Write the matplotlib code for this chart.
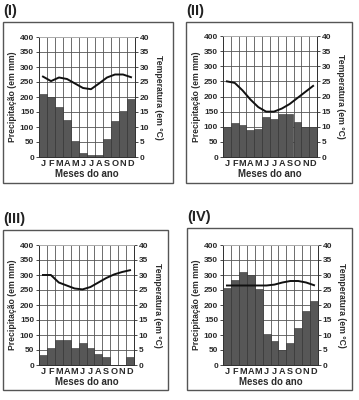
import matplotlib
matplotlib.use("Agg")
import matplotlib.pyplot as plt
from matplotlib.patches import Rectangle

plt.rcParams['font.family'] = ['Liberation Sans', 'DejaVu Sans']

months = ["J", "F", "M", "A", "M", "J", "J", "A", "S", "O", "N", "D"]
panel_titles = ["(I)", "(II)", "(III)", "(IV)"]

precip_I = [210, 200, 168, 125, 55, 12, 8, 8, 60, 120, 155, 195]
temp_I = [26.8, 25.3, 26.5, 26.0, 24.5, 23.0, 22.6, 24.5, 26.5, 27.5, 27.5, 26.6]

precip_II = [100, 112, 107, 88, 93, 133, 125, 143, 143, 115, 100, 100]
temp_II = [25.0, 24.5, 22.0, 19.0, 16.5, 15.0, 15.0, 16.0, 17.5, 19.5, 21.5, 23.5]

precip_III = [33, 57, 85, 85, 57, 73, 57, 37, 28, 0, 0, 28]
temp_III = [30.0, 30.0, 27.5, 26.5, 25.5, 25.2, 26.0, 27.5, 29.0, 30.2, 31.0, 31.6]

precip_IV = [258, 285, 310, 300, 255, 105, 80, 50, 73, 125, 180, 215]
temp_IV = [26.5, 26.5, 26.5, 26.5, 26.5, 26.5, 26.8, 27.5, 28.0, 28.0, 27.5, 26.6]

prec_ticks = [0, 50, 100, 150, 200, 250, 300, 350, 400]
temp_ticks = [0, 5, 10, 15, 20, 25, 30, 35, 40]

W, H = 359, 400
fig = plt.figure(figsize=(W / 100, H / 100), dpi=100)

# layout in pixels: (axes left, right, top, bottom), (box left, right, top, bottom), title pos
layouts = [
    ((39, 135, 37, 157), (3, 173, 22, 183), (3, 11)),
    ((223, 317, 36, 157), (186, 352, 22, 183), (186, 11)),
    ((39, 134, 245, 365), (3, 168, 230, 390), (3, 219)),
    ((223, 318, 245, 365), (187, 352, 228, 390), (187, 217)),
]
datasets = [(precip_I, temp_I), (precip_II, temp_II), (precip_III, temp_III), (precip_IV, temp_IV)]

fs = 6.0
txt = "#2a2a2a"
for (ax_px, box_px, t_px), (prec, temp), title in zip(layouts, datasets, panel_titles):
    l, r, t, b = ax_px
    bl, br, bt, bb = box_px
    fig.patches.append(Rectangle((bl / W, 1 - bb / H), (br - bl) / W, (bb - bt) / H,
                                 transform=fig.transFigure, fill=False,
                                 edgecolor="#555555", linewidth=1.0))
    fig.text(t_px[0] / W, 1 - t_px[1] / H, title, fontsize=10.5, fontweight="bold",
             ha="left", va="center", color="#222222")
    ax = fig.add_axes([l / W, 1 - b / H, (r - l) / W, (b - t) / H])
    x = list(range(12))
    ax.bar(x, prec, width=1.0, color="#575757", edgecolor="#333333", linewidth=0.4, zorder=2)
    ax.set_xlim(-0.5, 11.5)
    ax.set_ylim(0, 400)
    ax.set_yticks(prec_ticks)
    ax.set_yticklabels([str(v) for v in prec_ticks], fontsize=fs, fontweight="bold", color=txt)
    ax.set_xticks(x)
    ax.set_xticklabels(months, fontsize=fs + 0.6, fontweight="bold", color=txt)
    for xv in [i + 0.5 for i in range(11)]:
        ax.axvline(xv, color="#555555", linewidth=0.6, zorder=1)
    for yv in prec_ticks[1:-1]:
        ax.axhline(yv, color="#555555", linewidth=0.6, zorder=1)
    ax.tick_params(axis="x", length=0, pad=1.5)
    ax.tick_params(axis="y", length=2, width=0.5, pad=1.5)
    for s in ax.spines.values():
        s.set_linewidth(0.7)
        s.set_color("#333333")
    ax.spines["top"].set_color("#aaaaaa")
    ax.spines["top"].set_linewidth(0.6)
    ax.set_ylabel("Precipitação (em mm)", fontsize=fs + 0.2, fontweight="bold",
                  color=txt, labelpad=2)
    ax.set_xlabel("Meses do ano", fontsize=fs + 0.9, fontweight="bold", color=txt, labelpad=1)

    ax2 = ax.twinx()
    ax2.plot(x, temp, color="#111111", linewidth=1.4, zorder=3)
    ax2.set_ylim(0, 40)
    ax2.set_yticks(temp_ticks)
    ax2.set_yticklabels([str(v) for v in temp_ticks], fontsize=fs, fontweight="bold", color=txt)
    ax2.tick_params(axis="y", length=2, width=0.5, pad=1.5)
    for s in ax2.spines.values():
        s.set_linewidth(0.7)
        s.set_color("#333333")
    ax2.spines["top"].set_color("#aaaaaa")
    ax2.spines["top"].set_linewidth(0.6)
    ax2.set_ylabel("Temperatura (em °C)", fontsize=fs + 0.2, fontweight="bold", color=txt,
                   rotation=270, labelpad=10)

fig.savefig("out.png", dpi=100, facecolor="white")
